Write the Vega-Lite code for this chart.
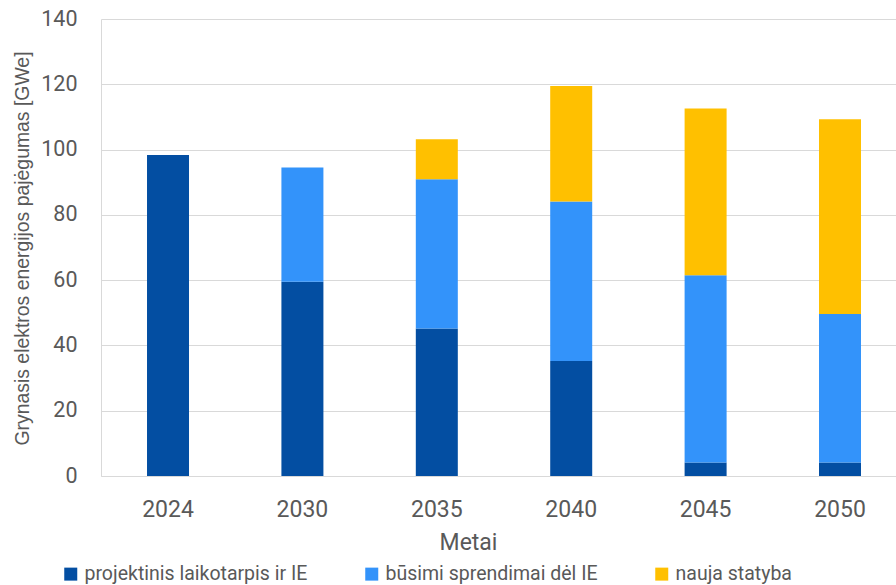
{
  "$schema": "https://vega.github.io/schema/vega-lite/v6.json",
  "width": 795,
  "height": 457,
  "autosize": "none",
  "padding": {"left": 101, "top": 19, "right": 0, "bottom": 109},
  "background": "white",
  "config": {
    "view": {"stroke": null},
    "font": "Roboto"
  },
  "data": {
    "values": [
      {"metai": "2024", "serija": "projektinis laikotarpis ir IE", "eil": 1, "gwe": 98.3},
      {"metai": "2030", "serija": "projektinis laikotarpis ir IE", "eil": 1, "gwe": 59.5},
      {"metai": "2030", "serija": "būsimi sprendimai dėl IE", "eil": 2, "gwe": 35.0},
      {"metai": "2035", "serija": "projektinis laikotarpis ir IE", "eil": 1, "gwe": 45.2},
      {"metai": "2035", "serija": "būsimi sprendimai dėl IE", "eil": 2, "gwe": 45.7},
      {"metai": "2035", "serija": "nauja statyba", "eil": 3, "gwe": 12.3},
      {"metai": "2040", "serija": "projektinis laikotarpis ir IE", "eil": 1, "gwe": 35.2},
      {"metai": "2040", "serija": "būsimi sprendimai dėl IE", "eil": 2, "gwe": 48.9},
      {"metai": "2040", "serija": "nauja statyba", "eil": 3, "gwe": 35.4},
      {"metai": "2045", "serija": "projektinis laikotarpis ir IE", "eil": 1, "gwe": 4.1},
      {"metai": "2045", "serija": "būsimi sprendimai dėl IE", "eil": 2, "gwe": 57.4},
      {"metai": "2045", "serija": "nauja statyba", "eil": 3, "gwe": 51.1},
      {"metai": "2050", "serija": "projektinis laikotarpis ir IE", "eil": 1, "gwe": 4.1},
      {"metai": "2050", "serija": "būsimi sprendimai dėl IE", "eil": 2, "gwe": 45.5},
      {"metai": "2050", "serija": "nauja statyba", "eil": 3, "gwe": 59.7}
    ]
  },
  "mark": {"type": "bar"},
  "encoding": {
    "x": {
      "field": "metai",
      "type": "nominal",
      "scale": {"paddingInner": 0.6875, "paddingOuter": 0.3014, "align": 0.568},
      "axis": {
        "title": "Metai",
        "labelAngle": 0,
        "labelFontSize": 23,
        "labelColor": "#595959",
        "labelBaseline": "alphabetic",
        "labelPadding": 40,
        "ticks": false,
        "domainColor": "#d9d9d9",
        "domainWidth": 1,
        "titleFontSize": 23,
        "titleFontWeight": "normal",
        "titleColor": "#595959",
        "titleX": 367,
        "titleY": 73,
        "titleAlign": "center",
        "titleBaseline": "alphabetic"
      }
    },
    "y": {
      "field": "gwe",
      "type": "quantitative",
      "stack": "zero",
      "scale": {"domain": [0, 140]},
      "axis": {
        "title": "Grynasis elektros energijos pajėgumas [GWe]",
        "values": [0, 20, 40, 60, 80, 100, 120, 140],
        "labelFontSize": 21.5,
        "labelColor": "#595959",
        "labelPadding": 24,
        "ticks": false,
        "domainColor": "#d9d9d9",
        "gridColor": "#d9d9d9",
        "titleFont": "Liberation Sans",
        "titleFontSize": 19.4,
        "titleFontWeight": "normal",
        "titleColor": "#595959",
        "titleX": -79,
        "titleY": 229,
        "titleAlign": "center",
        "titleBaseline": "middle",
        "titleAngle": -90
      }
    },
    "color": {
      "field": "serija",
      "type": "nominal",
      "scale": {
        "domain": ["projektinis laikotarpis ir IE", "būsimi sprendimai dėl IE", "nauja statyba"],
        "range": ["#034EA2", "#3393FA", "#FFC000"]
      },
      "legend": {
        "title": null,
        "orient": "none",
        "legendX": -40,
        "legendY": 545,
        "direction": "horizontal",
        "symbolType": "square",
        "symbolSize": 169,
        "symbolStrokeWidth": 0,
        "labelFontSize": 19.5,
        "labelColor": "#595959",
        "labelOffset": 4,
        "columnPadding": 54,
        "labelLimit": 400
      }
    },
    "order": {"field": "eil", "type": "quantitative"}
  }
}
